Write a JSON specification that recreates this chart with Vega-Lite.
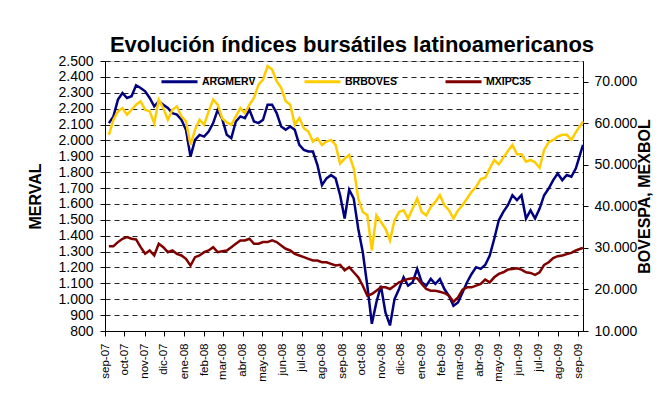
{
  "$schema": "https://vega.github.io/schema/vega-lite/v6.json",
  "width": 478,
  "height": 270,
  "autosize": "none",
  "padding": {"left": 105, "top": 61, "right": 81, "bottom": 81},
  "background": "white",
  "title": {"text": "Evolución índices bursátiles latinoamericanos", "font": "Liberation Sans", "fontSize": 22, "fontWeight": "bold", "color": "#000", "anchor": "middle", "frame": "group", "offset": -3, "dx": 8},
  "data": {"values": [
    {"fecha": "2007-09-07", "ARGMERV": 2109, "BRBOVES": 57220, "MXIPC35": 30430},
    {"fecha": "2007-09-14", "ARGMERV": 2151, "BRBOVES": 60850, "MXIPC35": 30430},
    {"fecha": "2007-09-21", "ARGMERV": 2257, "BRBOVES": 62870, "MXIPC35": 31400},
    {"fecha": "2007-09-28", "ARGMERV": 2299, "BRBOVES": 63670, "MXIPC35": 32210},
    {"fecha": "2007-10-05", "ARGMERV": 2267, "BRBOVES": 62060, "MXIPC35": 32610},
    {"fecha": "2007-10-12", "ARGMERV": 2278, "BRBOVES": 63270, "MXIPC35": 32210},
    {"fecha": "2007-10-19", "ARGMERV": 2347, "BRBOVES": 64480, "MXIPC35": 32050},
    {"fecha": "2007-10-26", "ARGMERV": 2330, "BRBOVES": 65290, "MXIPC35": 30190},
    {"fecha": "2007-11-02", "ARGMERV": 2309, "BRBOVES": 63270, "MXIPC35": 28580},
    {"fecha": "2007-11-09", "ARGMERV": 2267, "BRBOVES": 62870, "MXIPC35": 29390},
    {"fecha": "2007-11-16", "ARGMERV": 2214, "BRBOVES": 60040, "MXIPC35": 28180},
    {"fecha": "2007-11-23", "ARGMERV": 2246, "BRBOVES": 65690, "MXIPC35": 31000},
    {"fecha": "2007-11-30", "ARGMERV": 2225, "BRBOVES": 63670, "MXIPC35": 30190},
    {"fecha": "2007-12-07", "ARGMERV": 2204, "BRBOVES": 60850, "MXIPC35": 28980},
    {"fecha": "2007-12-14", "ARGMERV": 2172, "BRBOVES": 63270, "MXIPC35": 29390},
    {"fecha": "2007-12-21", "ARGMERV": 2162, "BRBOVES": 64080, "MXIPC35": 28580},
    {"fecha": "2007-12-28", "ARGMERV": 2130, "BRBOVES": 61660, "MXIPC35": 28180},
    {"fecha": "2008-01-04", "ARGMERV": 2067, "BRBOVES": 60450, "MXIPC35": 27370},
    {"fecha": "2008-01-11", "ARGMERV": 1898, "BRBOVES": 54800, "MXIPC35": 25760},
    {"fecha": "2008-01-18", "ARGMERV": 2003, "BRBOVES": 58430, "MXIPC35": 27770},
    {"fecha": "2008-01-25", "ARGMERV": 2035, "BRBOVES": 60850, "MXIPC35": 28180},
    {"fecha": "2008-02-01", "ARGMERV": 2024, "BRBOVES": 59640, "MXIPC35": 28980},
    {"fecha": "2008-02-08", "ARGMERV": 2056, "BRBOVES": 62870, "MXIPC35": 29390},
    {"fecha": "2008-02-15", "ARGMERV": 2109, "BRBOVES": 65690, "MXIPC35": 30190},
    {"fecha": "2008-02-22", "ARGMERV": 2193, "BRBOVES": 64480, "MXIPC35": 28980},
    {"fecha": "2008-02-29", "ARGMERV": 2135, "BRBOVES": 61200, "MXIPC35": 29200},
    {"fecha": "2008-03-07", "ARGMERV": 2035, "BRBOVES": 60200, "MXIPC35": 29390},
    {"fecha": "2008-03-14", "ARGMERV": 2014, "BRBOVES": 59640, "MXIPC35": 30190},
    {"fecha": "2008-03-21", "ARGMERV": 2119, "BRBOVES": 61660, "MXIPC35": 31000},
    {"fecha": "2008-03-28", "ARGMERV": 2151, "BRBOVES": 63670, "MXIPC35": 31810},
    {"fecha": "2008-04-04", "ARGMERV": 2140, "BRBOVES": 62460, "MXIPC35": 31810},
    {"fecha": "2008-04-11", "ARGMERV": 2193, "BRBOVES": 64480, "MXIPC35": 32210},
    {"fecha": "2008-04-18", "ARGMERV": 2119, "BRBOVES": 66100, "MXIPC35": 31000},
    {"fecha": "2008-04-25", "ARGMERV": 2109, "BRBOVES": 69320, "MXIPC35": 31000},
    {"fecha": "2008-05-02", "ARGMERV": 2130, "BRBOVES": 70530, "MXIPC35": 31400},
    {"fecha": "2008-05-09", "ARGMERV": 2225, "BRBOVES": 73760, "MXIPC35": 31400},
    {"fecha": "2008-05-16", "ARGMERV": 2225, "BRBOVES": 72950, "MXIPC35": 31810},
    {"fecha": "2008-05-23", "ARGMERV": 2172, "BRBOVES": 70130, "MXIPC35": 31400},
    {"fecha": "2008-05-30", "ARGMERV": 2088, "BRBOVES": 68520, "MXIPC35": 30600},
    {"fecha": "2008-06-06", "ARGMERV": 2067, "BRBOVES": 65290, "MXIPC35": 29790},
    {"fecha": "2008-06-13", "ARGMERV": 2088, "BRBOVES": 64480, "MXIPC35": 29390},
    {"fecha": "2008-06-20", "ARGMERV": 2067, "BRBOVES": 59640, "MXIPC35": 28580},
    {"fecha": "2008-06-27", "ARGMERV": 1972, "BRBOVES": 61250, "MXIPC35": 28180},
    {"fecha": "2008-07-04", "ARGMERV": 1940, "BRBOVES": 58830, "MXIPC35": 27770},
    {"fecha": "2008-07-11", "ARGMERV": 1930, "BRBOVES": 58030, "MXIPC35": 27370},
    {"fecha": "2008-07-18", "ARGMERV": 1930, "BRBOVES": 55610, "MXIPC35": 26970},
    {"fecha": "2008-07-25", "ARGMERV": 1845, "BRBOVES": 56410, "MXIPC35": 26970},
    {"fecha": "2008-08-01", "ARGMERV": 1718, "BRBOVES": 54800, "MXIPC35": 26560},
    {"fecha": "2008-08-08", "ARGMERV": 1761, "BRBOVES": 55610, "MXIPC35": 26560},
    {"fecha": "2008-08-15", "ARGMERV": 1782, "BRBOVES": 56010, "MXIPC35": 26160},
    {"fecha": "2008-08-22", "ARGMERV": 1761, "BRBOVES": 54800, "MXIPC35": 25760},
    {"fecha": "2008-08-29", "ARGMERV": 1655, "BRBOVES": 50300, "MXIPC35": 25950},
    {"fecha": "2008-09-05", "ARGMERV": 1508, "BRBOVES": 51500, "MXIPC35": 24600},
    {"fecha": "2008-09-12", "ARGMERV": 1690, "BRBOVES": 52380, "MXIPC35": 25350},
    {"fecha": "2008-09-19", "ARGMERV": 1634, "BRBOVES": 49150, "MXIPC35": 24140},
    {"fecha": "2008-09-26", "ARGMERV": 1444, "BRBOVES": 41890, "MXIPC35": 22930},
    {"fecha": "2008-10-03", "ARGMERV": 1296, "BRBOVES": 38660, "MXIPC35": 20910},
    {"fecha": "2008-10-10", "ARGMERV": 1085, "BRBOVES": 37860, "MXIPC35": 18500},
    {"fecha": "2008-10-17", "ARGMERV": 845, "BRBOVES": 29390, "MXIPC35": 18900},
    {"fecha": "2008-10-24", "ARGMERV": 980, "BRBOVES": 37860, "MXIPC35": 19700},
    {"fecha": "2008-10-31", "ARGMERV": 1085, "BRBOVES": 36240, "MXIPC35": 20510},
    {"fecha": "2008-11-07", "ARGMERV": 917, "BRBOVES": 34630, "MXIPC35": 20510},
    {"fecha": "2008-11-14", "ARGMERV": 835, "BRBOVES": 31810, "MXIPC35": 20110},
    {"fecha": "2008-11-21", "ARGMERV": 1001, "BRBOVES": 36650, "MXIPC35": 20910},
    {"fecha": "2008-11-28", "ARGMERV": 1064, "BRBOVES": 38660, "MXIPC35": 21720},
    {"fecha": "2008-12-05", "ARGMERV": 1138, "BRBOVES": 39070, "MXIPC35": 22120},
    {"fecha": "2008-12-12", "ARGMERV": 1085, "BRBOVES": 37050, "MXIPC35": 22530},
    {"fecha": "2008-12-19", "ARGMERV": 1107, "BRBOVES": 39470, "MXIPC35": 22690},
    {"fecha": "2008-12-26", "ARGMERV": 1191, "BRBOVES": 41890, "MXIPC35": 22690},
    {"fecha": "2009-01-02", "ARGMERV": 1107, "BRBOVES": 38660, "MXIPC35": 21320},
    {"fecha": "2009-01-09", "ARGMERV": 1085, "BRBOVES": 37860, "MXIPC35": 20110},
    {"fecha": "2009-01-16", "ARGMERV": 1128, "BRBOVES": 39870, "MXIPC35": 19700},
    {"fecha": "2009-01-23", "ARGMERV": 1096, "BRBOVES": 41080, "MXIPC35": 19700},
    {"fecha": "2009-01-30", "ARGMERV": 1128, "BRBOVES": 42700, "MXIPC35": 19460},
    {"fecha": "2009-02-06", "ARGMERV": 1064, "BRBOVES": 40280, "MXIPC35": 19140},
    {"fecha": "2009-02-13", "ARGMERV": 1022, "BRBOVES": 39070, "MXIPC35": 18490},
    {"fecha": "2009-02-20", "ARGMERV": 959, "BRBOVES": 37050, "MXIPC35": 17040},
    {"fecha": "2009-02-27", "ARGMERV": 980, "BRBOVES": 39070, "MXIPC35": 18090},
    {"fecha": "2009-03-06", "ARGMERV": 1043, "BRBOVES": 40280, "MXIPC35": 19950},
    {"fecha": "2009-03-13", "ARGMERV": 1107, "BRBOVES": 41890, "MXIPC35": 20510},
    {"fecha": "2009-03-20", "ARGMERV": 1159, "BRBOVES": 43500, "MXIPC35": 20510},
    {"fecha": "2009-03-27", "ARGMERV": 1202, "BRBOVES": 44710, "MXIPC35": 20910},
    {"fecha": "2009-04-03", "ARGMERV": 1191, "BRBOVES": 46570, "MXIPC35": 21320},
    {"fecha": "2009-04-10", "ARGMERV": 1216, "BRBOVES": 46890, "MXIPC35": 22370},
    {"fecha": "2009-04-17", "ARGMERV": 1275, "BRBOVES": 49150, "MXIPC35": 21720},
    {"fecha": "2009-04-24", "ARGMERV": 1381, "BRBOVES": 51170, "MXIPC35": 22930},
    {"fecha": "2009-05-01", "ARGMERV": 1497, "BRBOVES": 50120, "MXIPC35": 23740},
    {"fecha": "2009-05-08", "ARGMERV": 1550, "BRBOVES": 51730, "MXIPC35": 24140},
    {"fecha": "2009-05-15", "ARGMERV": 1592, "BRBOVES": 53350, "MXIPC35": 24790},
    {"fecha": "2009-05-22", "ARGMERV": 1655, "BRBOVES": 54800, "MXIPC35": 24950},
    {"fecha": "2009-05-29", "ARGMERV": 1624, "BRBOVES": 52540, "MXIPC35": 25110},
    {"fecha": "2009-06-05", "ARGMERV": 1655, "BRBOVES": 52540, "MXIPC35": 24790},
    {"fecha": "2009-06-12", "ARGMERV": 1508, "BRBOVES": 50770, "MXIPC35": 24140},
    {"fecha": "2009-06-19", "ARGMERV": 1560, "BRBOVES": 51170, "MXIPC35": 23980},
    {"fecha": "2009-06-26", "ARGMERV": 1508, "BRBOVES": 50600, "MXIPC35": 23500},
    {"fecha": "2009-07-03", "ARGMERV": 1571, "BRBOVES": 49310, "MXIPC35": 24140},
    {"fecha": "2009-07-10", "ARGMERV": 1655, "BRBOVES": 53590, "MXIPC35": 25920},
    {"fecha": "2009-07-17", "ARGMERV": 1697, "BRBOVES": 55450, "MXIPC35": 26560},
    {"fecha": "2009-07-24", "ARGMERV": 1750, "BRBOVES": 56010, "MXIPC35": 27530},
    {"fecha": "2009-07-31", "ARGMERV": 1792, "BRBOVES": 56820, "MXIPC35": 28010},
    {"fecha": "2009-08-07", "ARGMERV": 1750, "BRBOVES": 57220, "MXIPC35": 28180},
    {"fecha": "2009-08-14", "ARGMERV": 1782, "BRBOVES": 57220, "MXIPC35": 28500},
    {"fecha": "2009-08-21", "ARGMERV": 1771, "BRBOVES": 56010, "MXIPC35": 28820},
    {"fecha": "2009-08-28", "ARGMERV": 1824, "BRBOVES": 57870, "MXIPC35": 29390},
    {"fecha": "2009-09-04", "ARGMERV": 1919, "BRBOVES": 59480, "MXIPC35": 29790},
    {"fecha": "2009-09-08", "ARGMERV": 1972, "BRBOVES": 60450, "MXIPC35": 30030}
  ]},
  "transform": [{"fold": ["ARGMERV", "BRBOVES", "MXIPC35"], "as": ["serie", "valor"]}],
  "encoding": {
    "x": {
      "field": "fecha", "type": "temporal",
      "scale": {"type": "utc", "domain": [{"year": 2007, "month": 9, "date": 1, "utc": true}, {"year": 2009, "month": 9, "date": 8, "utc": true}], "nice": false},
      "axis": {
        "title": null,
        "tickCount": {"interval": "month", "step": 1},
        "labelExpr": "['ene','feb','mar','abr','may','jun','jul','ago','sep','oct','nov','dic'][utcmonth(datum.value)] + '-' + utcFormat(datum.value, '%y')",
        "labelAngle": 270, "labelAlign": "right", "labelBaseline": "middle",
        "labelFont": "Liberation Sans", "labelFontSize": 11.5, "labelColor": "#000",
        "labelPadding": 7, "labelOverlap": false, "labelFlush": false, "labelBound": false,
        "tickSize": 5, "tickColor": "#000", "domainColor": "#000", "grid": false
      }
    },
    "color": {
      "field": "serie", "type": "nominal",
      "scale": {"domain": ["ARGMERV", "BRBOVES", "MXIPC35"], "range": ["#000080", "#FFCC00", "#800000"]},
      "legend": {
        "title": null, "orient": "none", "legendX": 49, "legendY": -5, "direction": "horizontal", "columns": 3,
        "symbolType": "stroke", "symbolSize": 1296, "symbolStrokeWidth": 3,
        "labelFont": "Liberation Sans", "labelFontSize": 10.5, "labelFontWeight": "bold", "labelColor": "#000",
        "labelOffset": 3, "columnPadding": 42, "padding": 6
      }
    }
  },
  "layer": [
    {
      "transform": [{"filter": "datum.serie == 'ARGMERV'"}],
      "mark": {"type": "line", "strokeWidth": 2.5},
      "encoding": {
        "y": {
          "field": "valor", "type": "quantitative",
          "scale": {"domain": [800, 2500], "nice": false, "zero": false},
          "axis": {
            "title": "MERVAL", "titleFont": "Liberation Sans", "titleFontSize": 16, "titleFontWeight": "bold", "titleColor": "#000", "titlePadding": 14,
            "values": [800, 900, 1000, 1100, 1200, 1300, 1400, 1500, 1600, 1700, 1800, 1900, 2000, 2100, 2200, 2300, 2400, 2500],
            "labelExpr": "replace(format(datum.value, ','), ',', '.')",
            "labelFont": "Liberation Sans", "labelFontSize": 14, "labelColor": "#000", "labelOverlap": false, "labelFlush": false,
            "labelPadding": 7, "tickSize": 5, "tickColor": "#000", "domainColor": "#000",
            "grid": true, "gridDash": [5, 4], "gridColor": "#222", "gridWidth": 1
          }
        }
      }
    },
    {
      "transform": [{"filter": "datum.serie != 'ARGMERV'"}],
      "mark": {"type": "line", "strokeWidth": 2.5},
      "encoding": {
        "y": {
          "field": "valor", "type": "quantitative",
          "scale": {"domain": [10000, 75000], "nice": false, "zero": false},
          "axis": {
            "orient": "right",
            "title": "BOVESPA, MEXBOL", "titleFont": "Liberation Sans", "titleFontSize": 16, "titleFontWeight": "bold", "titleColor": "#000", "titlePadding": 16, "titleAngle": 270,
            "values": [10000, 20000, 30000, 40000, 50000, 60000, 70000],
            "labelExpr": "replace(format(datum.value, ','), ',', '.')",
            "labelFont": "Liberation Sans", "labelFontSize": 14, "labelColor": "#000", "labelOverlap": false, "labelFlush": false,
            "labelPadding": 6, "tickSize": 5, "tickColor": "#000", "domainColor": "#000", "grid": false
          }
        }
      }
    }
  ],
  "resolve": {"scale": {"y": "independent"}, "axis": {"y": "independent"}},
  "config": {"view": {"stroke": "#c8c8c8"}, "font": "Liberation Sans"}
}
